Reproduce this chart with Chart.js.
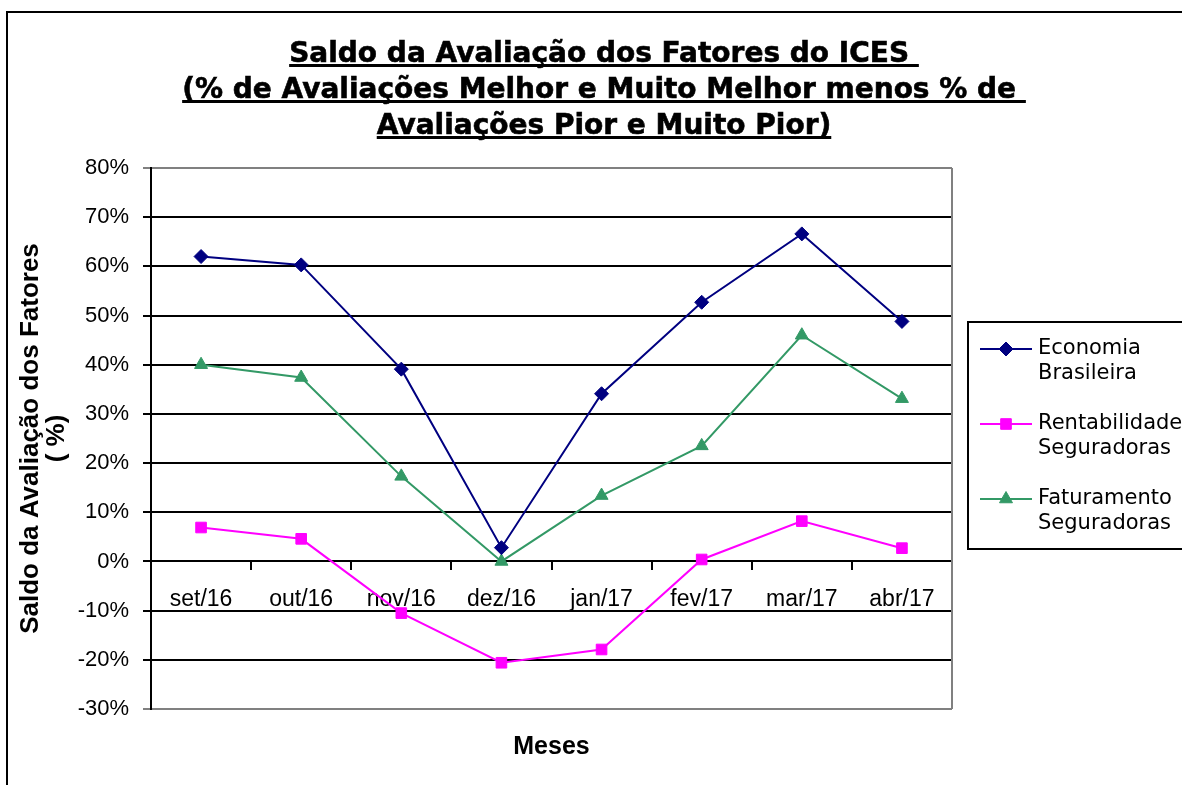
<!DOCTYPE html>
<html>
<head>
<meta charset="utf-8">
<script src="https://cdn.jsdelivr.net/npm/chart.js@4/dist/chart.umd.min.js"></script>
<style>
  body { margin: 0; background: #fff; }
  canvas { display: block; }
</style>
</head>
<body>
<canvas id="chart" width="1182" height="785"></canvas>
<script>

const months = ['set/16', 'out/16', 'nov/16', 'dez/16', 'jan/17', 'fev/17', 'mar/17', 'abr/17'];

const economia = [62, 60.3, 39.1, 2.8, 34.1, 52.7, 66.6, 48.8];
const rentabilidade = [6.9, 4.6, -10.5, -20.6, -17.9, 0.4, 8.2, 2.7];
const faturamento = [40, 37.4, 17.3, 0, 13.4, 23.5, 46, 33.1];

const seriesNames = [
    ['Economia', 'Brasileira'],
    ['Rentabilidade', 'Seguradoras'],
    ['Faturamento', 'Seguradoras']
];

const yTicks = [-30, -20, -10, 0, 10, 20, 30, 40, 50, 60, 70, 80];

const titleLines = [
    'Saldo da Avaliação dos Fatores do ICES ',
    '(% de Avaliações Melhor e Muito Melhor menos % de ',
    'Avaliações Pior e Muito Pior)'
];

function makeDataset(name, values, color, style, radius) {
    return {
        label: name.join(' '),
        data: values,
        borderColor: color,
        backgroundColor: color,
        borderWidth: 2,
        pointStyle: style,
        pointRadius: radius,
        pointBorderWidth: 1,
        tension: 0
    };
}

// fallback in case helpers are not exposed
function drawMarker(ctx, style, radius, x, y) {
    if (Chart.helpers && Chart.helpers.drawPoint) {
        Chart.helpers.drawPoint(ctx, { pointStyle: style, radius: radius, rotation: 0, borderWidth: 1 }, x, y);
        return;
    }
    ctx.beginPath();
    if (style === 'rect') {
        const s = radius * Math.SQRT1_2;
        ctx.rect(x - s, y - s, 2 * s, 2 * s);
    } else if (style === 'rectRot') {
        ctx.moveTo(x, y - radius);
        ctx.lineTo(x + radius, y);
        ctx.lineTo(x, y + radius);
        ctx.lineTo(x - radius, y);
    } else {
        ctx.moveTo(x, y - radius);
        ctx.lineTo(x + radius * 0.866, y + radius * 0.5);
        ctx.lineTo(x - radius * 0.866, y + radius * 0.5);
    }
    ctx.closePath();
    ctx.fill();
    ctx.stroke();
}

const decorations = {
    id: 'decorations',
    beforeDatasetsDraw(chart) {
        const ctx = chart.ctx;
        const area = chart.chartArea;
        ctx.save();
        ctx.strokeStyle = '#808080';
        ctx.lineWidth = 2;
        ctx.beginPath();
        ctx.moveTo(area.right, area.top);
        ctx.lineTo(area.right, area.bottom);
        ctx.stroke();
        ctx.restore();
    },
    afterDraw(chart) {
        const ctx = chart.ctx;
        ctx.save();

        // outer frame
        ctx.strokeStyle = '#000';
        ctx.lineWidth = 2;
        ctx.strokeRect(7, 12, 1200, 800);

        // title, underlined
        ctx.fillStyle = '#000';
        ctx.strokeStyle = '#000';
        ctx.lineWidth = 0.6;
        ctx.font = 'bold 28px "DejaVu Sans"';
        ctx.textAlign = 'left';
        ctx.textBaseline = 'alphabetic';
        const baselines = [62, 98, 134];
        titleLines.forEach((line, i) => {
            const w = ctx.measureText(line).width;
            const x0 = 604 - w / 2;
            ctx.fillText(line, x0, baselines[i]);
            ctx.strokeText(line, x0, baselines[i]);
            ctx.fillRect(x0, baselines[i] + 2, w, 3);
        });

        // x axis title
        ctx.font = 'bold 25px "Liberation Sans"';
        ctx.textAlign = 'center';
        ctx.textBaseline = 'middle';
        ctx.fillText('Meses', (chart.chartArea.left + chart.chartArea.right) / 2, 747);

        // legend
        ctx.lineWidth = 2;
        ctx.strokeStyle = '#000';
        ctx.strokeRect(968, 322, 230, 227);
        ctx.font = '21px "DejaVu Sans"';
        ctx.textAlign = 'left';
        chart.data.datasets.forEach((ds, i) => {
            const y = 349 + i * 75;
            ctx.strokeStyle = ds.borderColor;
            ctx.fillStyle = ds.backgroundColor;
            ctx.lineWidth = 2;
            ctx.beginPath();
            ctx.moveTo(980, y);
            ctx.lineTo(1032, y);
            ctx.stroke();
            ctx.lineWidth = 1;
            drawMarker(ctx, ds.pointStyle, ds.pointRadius, 1006, y);
            ctx.fillStyle = '#000';
            seriesNames[i].forEach((t, j) => {
                ctx.fillText(t, 1038, y + j * 25);
            });
        });
        ctx.restore();
    }
};

new Chart(document.getElementById('chart'), {
    type: 'line',
    data: {
        labels: months,
        datasets: [
            makeDataset(seriesNames[0], economia, '#000080', 'rectRot', 7),
            makeDataset(seriesNames[1], rentabilidade, '#FF00FF', 'rect', 7.5),
            makeDataset(seriesNames[2], faturamento, '#339966', 'triangle', 7.5)
        ]
    },
    options: {
        responsive: false,
        animation: false,
        layout: {
            padding: { top: 168, left: 10, right: 230, bottom: 76 }
        },
        scales: {
            x: {
                position: { y: 0 },
                offset: true,
                grid: {
                    offset: true,
                    drawOnChartArea: false,
                    color: '#000',
                    lineWidth: 2,
                    tickLength: 8
                },
                border: { color: '#000', width: 2 },
                ticks: {
                    color: '#000',
                    font: { family: '"Liberation Sans"', size: 23 },
                    padding: 16,
                    maxRotation: 0,
                    autoSkip: false
                }
            },
            y: {
                min: -30,
                max: 80,
                afterFit: scale => { scale.width = 141; },
                afterBuildTicks: scale => {
                    scale.ticks = yTicks.map(v => ({ value: v }));
                },
                grid: {
                    color: c => (c.tick && (c.tick.value === 80 || c.tick.value === -30)) ? '#808080' : '#000',
                    lineWidth: 2,
                    tickLength: 8
                },
                border: { color: '#000', width: 2 },
                ticks: {
                    color: '#000',
                    font: { family: '"Liberation Sans"', size: 22 },
                    padding: 14,
                    callback: v => v + '%'
                },
                title: {
                    display: true,
                    text: ['Saldo da Avaliação dos Fatores', '( %)'],
                    color: '#000',
                    font: { family: '"Liberation Sans"', size: 26, weight: 'bold', lineHeight: 1 },
                    padding: { top: 8, bottom: 0 }
                }
            }
        },
        plugins: {
            legend: { display: false },
            title: { display: false },
            tooltip: { enabled: false }
        }
    },
    plugins: [decorations]
});
</script>
</body>
</html>
